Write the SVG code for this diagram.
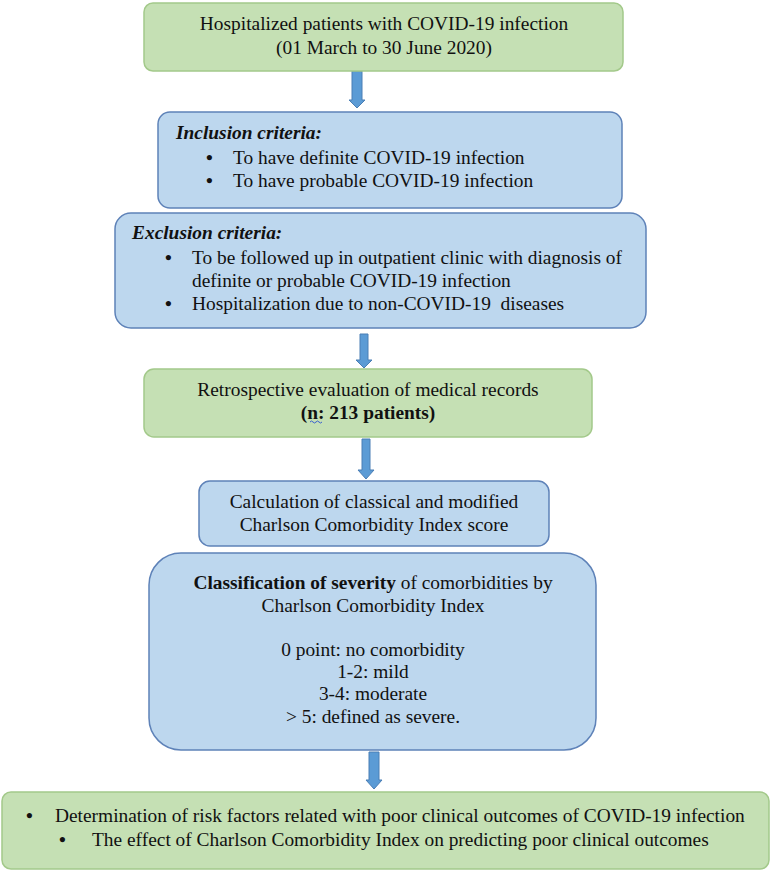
<svg xmlns="http://www.w3.org/2000/svg" width="771" height="873" viewBox="0 0 771 873">
<defs>
<style>
text{font-family:"Liberation Serif","Times New Roman",serif;font-size:19.4px;fill:#111;}
.c{text-anchor:middle;}
.b{font-weight:bold;}
.bi{font-weight:bold;font-style:italic;}
.bul{font-weight:bold;}
.green{fill:#C5E0B4;stroke:#A3C98A;stroke-width:1.5;}
.blue{fill:#BDD7EE;stroke:#5E82B8;stroke-width:1.5;}
.arrow{fill:#5B9BD5;stroke:#4A7EB5;stroke-width:1;}
</style>
</defs>
<rect width="771" height="873" fill="#fff"/>
<g id="connectors">
<path class="arrow" d="M352,71 H362 V100 H365 L357,108 L349,100 H352 Z"/>
<path class="arrow" d="M360,334 H368 V360 H372 L364,368 L356,360 H360 Z"/>
<path class="arrow" d="M362,439 H370 V470 H374 L366,479 L358,470 H362 Z"/>
<path class="arrow" d="M369,752 H379 V780 H382 L374,789 L366,780 H369 Z"/>
</g>
<g id="n1">
<rect class="green" x="144" y="3" width="479" height="68" rx="9"/>
<text class="c" x="384" y="30">Hospitalized patients with COVID-19 infection</text>
<text class="c" x="384" y="54">(01 March to 30 June 2020)</text>
</g>
<g id="n2">
<rect class="blue" x="158" y="112" width="464" height="96" rx="12"/>
<text class="bi" x="176" y="139">Inclusion criteria:</text>
<text class="bul" x="206" y="164">•</text>
<text x="233" y="164">To have definite COVID-19 infection</text>
<text class="bul" x="206" y="187">•</text>
<text x="233" y="187">To have probable COVID-19 infection</text>
</g>
<g id="n3">
<rect class="blue" x="115" y="213" width="531" height="115" rx="16"/>
<text class="bi" x="132" y="239">Exclusion criteria:</text>
<text class="bul" x="165" y="264">•</text>
<text x="192" y="264">To be followed up in outpatient clinic with diagnosis of</text>
<text x="192" y="287">definite or probable COVID-19 infection</text>
<text class="bul" x="165" y="310">•</text>
<text x="192" y="310">Hospitalization due to non-COVID-19&#160; diseases</text>
</g>
<g id="n4">
<rect class="green" x="144" y="369" width="448" height="68" rx="10"/>
<text class="c" x="368" y="396">Retrospective evaluation of medical records</text>
<text class="c b" x="368" y="419">(n: 213 patients)</text>
<path d="M310,422 q1.5,-2 3,0 t3,0 t3,0 t3,0" fill="none" stroke="#3A5FD0" stroke-width="1"/>
</g>
<g id="n5">
<rect class="blue" x="199" y="481" width="350" height="65" rx="11"/>
<text class="c" x="374" y="508">Calculation of classical and modified</text>
<text class="c" x="374" y="531">Charlson Comorbidity Index score</text>
</g>
<g id="n6">
<rect class="blue" x="149" y="553" width="447" height="197" rx="32"/>
<text class="c" x="373" y="589"><tspan class="b">Classification of severity</tspan> of comorbidities by</text>
<text class="c" x="373" y="612">Charlson Comorbidity Index</text>
<text class="c" x="373" y="656">0 point: no comorbidity</text>
<text class="c" x="373" y="678">1-2: mild</text>
<text class="c" x="373" y="700">3-4: moderate</text>
<text class="c" x="373" y="723">&gt; 5: defined as severe.</text>
</g>
<g id="n7">
<rect class="green" x="2" y="792" width="767" height="77" rx="9"/>
<text class="bul" x="26" y="822">•</text>
<text x="55" y="822">Determination of risk factors related with poor clinical outcomes of COVID-19 infection</text>
<text class="bul" x="59" y="846">•</text>
<text x="92" y="846">The effect of Charlson Comorbidity Index on predicting poor clinical outcomes</text>
</g>
</svg>
